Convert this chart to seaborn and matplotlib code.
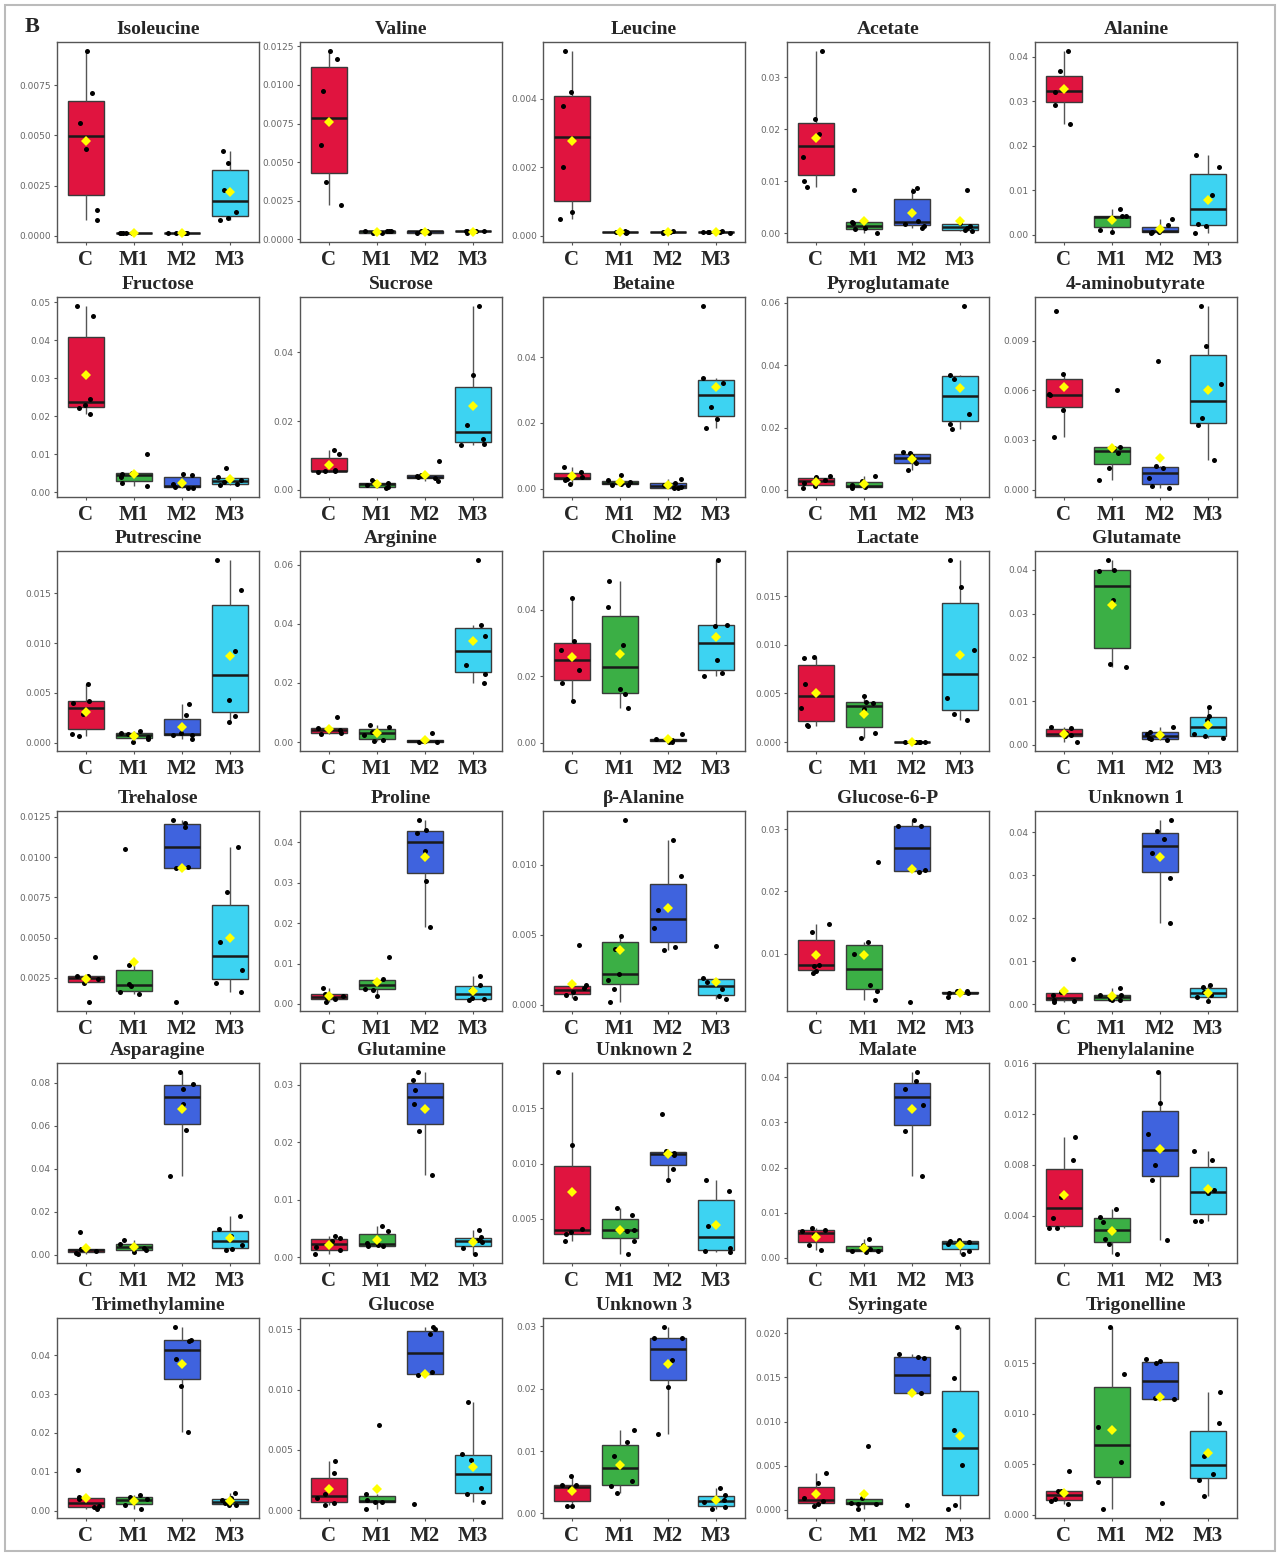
import numpy as np
import pandas as pd
import matplotlib
matplotlib.use("Agg")
import matplotlib.pyplot as plt
import seaborn as sns
from matplotlib.patches import Rectangle

# ---------------- data ----------------
groups = ["C", "M1", "M2", "M3"]
group_colors = ["#E0143F", "#3BAF45", "#3F63DE", "#3DD3F2"]

isoleucine = [[0.0092, 0.0071, 0.0056, 0.0043, 0.0013, 0.0008],
              [0.00015, 0.00015, 0.00016, 0.00014, 0.00015, 0.00015],
              [0.00015, 0.00016, 0.00015, 0.00014, 0.00015, 0.00015],
              [0.0042, 0.0036, 0.0023, 0.0012, 0.0009, 0.0008]]
valine = [[0.0122, 0.0117, 0.0096, 0.0061, 0.0037, 0.0022],
          [0.0005, 0.0004, 0.0005, 0.0005, 0.0004, 0.0005],
          [0.0004, 0.0005, 0.0005, 0.0004, 0.0005, 0.0005],
          [0.0005, 0.0004, 0.0005, 0.0005, 0.0005, 0.0005]]
leucine = [[0.0054, 0.0042, 0.0038, 0.0020, 0.0007, 0.0005],
           [0.0001, 0.00012, 0.00008, 0.0001, 0.00015, 0.0001],
           [0.0001, 0.00015, 0.00008, 0.0001, 0.00012, 0.0001],
           [0.0001, 0.00012, 0.00008, 0.0001, 0.00013, 0.0001]]
acetate = [[0.035, 0.022, 0.019, 0.0147, 0.010, 0.009],
           [0.0083, 0.0022, 0.0020, 0.0010, 0.0008, 0.0001],
           [0.0088, 0.0081, 0.0024, 0.0018, 0.0015, 0.0011],
           [0.0083, 0.0020, 0.0015, 0.0010, 0.0006, 0.0004]]
alanine = [[0.0413, 0.0368, 0.0328, 0.0320, 0.0291, 0.0250],
           [0.0057, 0.0043, 0.0042, 0.0038, 0.0010, 0.0007],
           [0.0035, 0.0021, 0.0010, 0.0007, 0.0005, 0.0004],
           [0.0180, 0.0153, 0.0090, 0.0025, 0.0020, 0.0004]]
fructose = [[0.049, 0.0463, 0.0245, 0.023, 0.0222, 0.0207],
            [0.010, 0.0051, 0.0048, 0.0040, 0.0025, 0.0017],
            [0.0047, 0.0045, 0.0020, 0.0014, 0.0012, 0.0011],
            [0.0063, 0.0040, 0.0032, 0.0027, 0.0020, 0.0018]]
sucrose = [[0.0115, 0.0105, 0.0058, 0.0055, 0.0055, 0.0052],
           [0.0030, 0.0022, 0.0020, 0.0015, 0.0008, 0.0006],
           [0.0083, 0.0045, 0.0040, 0.0037, 0.0034, 0.0027],
           [0.0535, 0.0335, 0.0188, 0.0148, 0.0135, 0.0130]]
betaine = [[0.0065, 0.0050, 0.0035, 0.0030, 0.0027, 0.0015],
           [0.0040, 0.0025, 0.0020, 0.0015, 0.0012, 0.0010],
           [0.0028, 0.0018, 0.0010, 0.0005, 0.0002, 0.0002],
           [0.0555, 0.0335, 0.0320, 0.0248, 0.0212, 0.0183]]
pyroglutamate = [[0.0045, 0.0040, 0.0032, 0.0022, 0.0012, 0.0006],
                 [0.0045, 0.0028, 0.0015, 0.0012, 0.0008, 0.0006],
                 [0.0120, 0.0118, 0.0110, 0.0095, 0.0085, 0.0062],
                 [0.0590, 0.0368, 0.0355, 0.0245, 0.0212, 0.0195]]
aminobutyrate = [[0.0108, 0.0070, 0.0058, 0.0057, 0.0048, 0.0032],
                 [0.0060, 0.0026, 0.0025, 0.0022, 0.0013, 0.0006],
                 [0.0078, 0.0014, 0.0013, 0.0007, 0.0002, 0.0001],
                 [0.0111, 0.0087, 0.0064, 0.0043, 0.0039, 0.0018]]
putrescine = [[0.0059, 0.0042, 0.0040, 0.0029, 0.0009, 0.0007],
              [0.0012, 0.0010, 0.0009, 0.0006, 0.0004, 0.0001],
              [0.0039, 0.0028, 0.0010, 0.0008, 0.0008, 0.0004],
              [0.0183, 0.0153, 0.0092, 0.0043, 0.0027, 0.0021]]
arginine = [[0.0085, 0.0048, 0.0042, 0.0040, 0.0030, 0.0028],
            [0.0058, 0.0050, 0.0035, 0.0025, 0.0007, 0.0005],
            [0.0030, 0.0008, 0.0005, 0.0003, 0.0002, 0.0001],
            [0.0615, 0.0395, 0.0358, 0.0260, 0.0230, 0.0201]]
choline = [[0.0435, 0.0305, 0.0280, 0.0220, 0.0180, 0.0125],
           [0.0488, 0.0410, 0.0295, 0.0160, 0.0145, 0.0103],
           [0.0025, 0.0012, 0.0008, 0.0006, 0.0003, 0.0002],
           [0.0550, 0.0355, 0.0350, 0.0250, 0.0210, 0.0200]]
lactate = [[0.0087, 0.0086, 0.0060, 0.0035, 0.0017, 0.0016],
           [0.0047, 0.0041, 0.0040, 0.0034, 0.0009, 0.0004],
           [0.00001, 0.00002, 0.00001, 0.00002, 0.00001, 0.00002],
           [0.0187, 0.0159, 0.0095, 0.0045, 0.0029, 0.0023]]
glutamate = [[0.0040, 0.0038, 0.0028, 0.0022, 0.0020, 0.0007],
             [0.0422, 0.0400, 0.0398, 0.0330, 0.0185, 0.0177],
             [0.0040, 0.0030, 0.0025, 0.0017, 0.0013, 0.0011],
             [0.0087, 0.0065, 0.0058, 0.0025, 0.0020, 0.0016]]
trehalose = [[0.0038, 0.0026, 0.0026, 0.0024, 0.0022, 0.0010],
             [0.0105, 0.0033, 0.0021, 0.0020, 0.0016, 0.0015],
             [0.0123, 0.0121, 0.0119, 0.0094, 0.0093, 0.0010],
             [0.0106, 0.0078, 0.0047, 0.0030, 0.0022, 0.0016]]
proline = [[0.0040, 0.0025, 0.0020, 0.0015, 0.0012, 0.0005],
           [0.0117, 0.0062, 0.0055, 0.0038, 0.0035, 0.0020],
           [0.0455, 0.0430, 0.0422, 0.0378, 0.0305, 0.0190],
           [0.0068, 0.0047, 0.0035, 0.0015, 0.0012, 0.0010]]
beta_alanine = [[0.0043, 0.0014, 0.0012, 0.0009, 0.0007, 0.0005],
                [0.0132, 0.0049, 0.0040, 0.0022, 0.0018, 0.0011, 0.0002],
                [0.0118, 0.0092, 0.0068, 0.0055, 0.0041, 0.0039],
                [0.0042, 0.0019, 0.0016, 0.0011, 0.0006, 0.0004]]
glucose6p = [[0.0148, 0.0135, 0.0082, 0.0080, 0.0072, 0.0068],
             [0.0248, 0.0118, 0.0100, 0.0050, 0.0040, 0.0025],
             [0.0315, 0.0305, 0.0305, 0.0235, 0.0232, 0.0022],
             [0.0040, 0.0039, 0.0037, 0.0036, 0.0036, 0.0030]]
unknown1 = [[0.0105, 0.0028, 0.0020, 0.0010, 0.0008, 0.0005],
            [0.0038, 0.0022, 0.0020, 0.0012, 0.0010, 0.0010],
            [0.0428, 0.0402, 0.0385, 0.0352, 0.0293, 0.0188],
            [0.0045, 0.0040, 0.0028, 0.0022, 0.0016, 0.0006]]
asparagine = [[0.0105, 0.0028, 0.0025, 0.0015, 0.0008, 0.0003],
              [0.0068, 0.0050, 0.0042, 0.0030, 0.0020, 0.0010],
              [0.0850, 0.0795, 0.0772, 0.0700, 0.0580, 0.0368],
              [0.0178, 0.0118, 0.0085, 0.0045, 0.0025, 0.0020]]
glutamine = [[0.0037, 0.0033, 0.0028, 0.0018, 0.0012, 0.0006],
             [0.0055, 0.0045, 0.0025, 0.0021, 0.0020, 0.0019],
             [0.0322, 0.0308, 0.0291, 0.0266, 0.0220, 0.0144],
             [0.0047, 0.0036, 0.0030, 0.0027, 0.0017, 0.0006]]
unknown2 = [[0.0183, 0.0117, 0.0041, 0.0038, 0.0036, 0.0030],
            [0.0060, 0.0053, 0.0040, 0.0039, 0.0030, 0.0018],
            [0.0145, 0.0111, 0.0110, 0.0108, 0.0095, 0.0085],
            [0.0085, 0.0075, 0.0043, 0.0023, 0.0021, 0.0020]]
malate = [[0.0065, 0.0062, 0.0058, 0.0050, 0.0028, 0.0016],
          [0.0042, 0.0028, 0.0018, 0.0015, 0.0014, 0.0013],
          [0.0412, 0.0392, 0.0375, 0.0338, 0.0280, 0.0182],
          [0.0040, 0.0037, 0.0035, 0.0030, 0.0015, 0.0008]]
phenylalanine = [[0.0102, 0.0084, 0.0055, 0.0038, 0.0030, 0.0030],
                 [0.0045, 0.0039, 0.0035, 0.0022, 0.0018, 0.0010],
                 [0.0153, 0.0129, 0.0104, 0.0080, 0.0068, 0.0021],
                 [0.0091, 0.0084, 0.0060, 0.0058, 0.0036, 0.0036]]
trimethylamine = [[0.0106, 0.0035, 0.0030, 0.0012, 0.0010, 0.0005],
                  [0.0040, 0.0036, 0.0030, 0.0025, 0.0015, 0.0006],
                  [0.0472, 0.0440, 0.0435, 0.0390, 0.0320, 0.0202],
                  [0.0046, 0.0033, 0.0027, 0.0020, 0.0016, 0.0015]]
glucose = [[0.0041, 0.0031, 0.0013, 0.0010, 0.0006, 0.0004],
           [0.0071, 0.0013, 0.0008, 0.0007, 0.0007, 0.0001],
           [0.0152, 0.0150, 0.0146, 0.0115, 0.0112, 0.0005],
           [0.0090, 0.0047, 0.0042, 0.0018, 0.0013, 0.0007]]
unknown3 = [[0.0060, 0.0045, 0.0045, 0.0040, 0.0012, 0.0011],
            [0.0133, 0.0115, 0.0092, 0.0052, 0.0044, 0.0033],
            [0.0299, 0.0281, 0.0281, 0.0246, 0.0203, 0.0128],
            [0.0041, 0.0030, 0.0022, 0.0018, 0.0010, 0.0007]]
syringate = [[0.0042, 0.0030, 0.0013, 0.0010, 0.0007, 0.0004],
             [0.0072, 0.0013, 0.0008, 0.0007, 0.0006, 0.0001],
             [0.0177, 0.0173, 0.0172, 0.0134, 0.0132, 0.0005],
             [0.0207, 0.0149, 0.0090, 0.0051, 0.0005, 0.0001]]
trigonelline = [[0.0044, 0.0024, 0.0024, 0.0016, 0.0014, 0.0011],
                [0.0186, 0.0140, 0.0087, 0.0052, 0.0033, 0.0006],
                [0.0154, 0.0152, 0.0150, 0.0116, 0.0115, 0.0012],
                [0.0122, 0.0091, 0.0058, 0.0041, 0.0035, 0.0019]]

titles = ["Isoleucine", "Valine", "Leucine", "Acetate", "Alanine",
          "Fructose", "Sucrose", "Betaine", "Pyroglutamate", "4-aminobutyrate",
          "Putrescine", "Arginine", "Choline", "Lactate", "Glutamate",
          "Trehalose", "Proline", "β-Alanine", "Glucose-6-P", "Unknown 1",
          "Asparagine", "Glutamine", "Unknown 2", "Malate", "Phenylalanine",
          "Trimethylamine", "Glucose", "Unknown 3", "Syringate", "Trigonelline"]

series = [isoleucine, valine, leucine, acetate, alanine,
          fructose, sucrose, betaine, pyroglutamate, aminobutyrate,
          putrescine, arginine, choline, lactate, glutamate,
          trehalose, proline, beta_alanine, glucose6p, unknown1,
          asparagine, glutamine, unknown2, malate, phenylalanine,
          trimethylamine, glucose, unknown3, syringate, trigonelline]

y_ticks = [[0, 0.0025, 0.005, 0.0075], [0, 0.0025, 0.005, 0.0075, 0.01, 0.0125],
           [0, 0.002, 0.004], [0, 0.01, 0.02, 0.03], [0, 0.01, 0.02, 0.03, 0.04],
           [0, 0.01, 0.02, 0.03, 0.04, 0.05], [0, 0.02, 0.04], [0, 0.02, 0.04],
           [0, 0.02, 0.04, 0.06], [0, 0.003, 0.006, 0.009],
           [0, 0.005, 0.01, 0.015], [0, 0.02, 0.04, 0.06], [0, 0.02, 0.04],
           [0, 0.005, 0.01, 0.015], [0, 0.01, 0.02, 0.03, 0.04],
           [0.0025, 0.005, 0.0075, 0.01, 0.0125], [0, 0.01, 0.02, 0.03, 0.04],
           [0, 0.005, 0.01], [0.01, 0.02, 0.03], [0, 0.01, 0.02, 0.03, 0.04],
           [0, 0.02, 0.04, 0.06, 0.08], [0, 0.01, 0.02, 0.03],
           [0.005, 0.01, 0.015], [0, 0.01, 0.02, 0.03, 0.04],
           [0.004, 0.008, 0.012, 0.016],
           [0, 0.01, 0.02, 0.03, 0.04], [0, 0.005, 0.01, 0.015],
           [0, 0.01, 0.02, 0.03], [0, 0.005, 0.01, 0.015, 0.02],
           [0, 0.005, 0.01, 0.015]]

# ---------------- layout ----------------
W, H = 1280, 1556
sns.set_style("white")
plt.rcParams["font.family"] = ["DejaVu Sans"]
np.random.seed(3)

fig = plt.figure(figsize=(W / 100, H / 100), dpi=100)
col_left = [57, 300, 543, 787, 1035]
row_top = [42, 297, 551, 811, 1063, 1318]
ax_w, ax_h = 202, 200

serif = ["Liberation Serif", "DejaVu Serif"]


def decimals(v):
    s = f"{v:.6f}".rstrip("0")
    return len(s.split(".")[1])


for i, (title, vals, ticks) in enumerate(zip(titles, series, y_ticks)):
    r, c = divmod(i, 5)
    ax = fig.add_axes([col_left[c] / W, 1 - (row_top[r] + ax_h) / H, ax_w / W, ax_h / H])
    df = pd.DataFrame({
        "group": [g for g, v in zip(groups, vals) for _ in v],
        "value": [x for v in vals for x in v],
    })
    sns.boxplot(data=df, x="group", y="value", hue="group", order=groups,
                hue_order=groups, palette=group_colors, legend=False,
                saturation=1, width=0.75, showfliers=False, linewidth=1.0,
                linecolor="#3a3a3a",
                whiskerprops={"color": "#555555", "linewidth": 1.0},
                capprops={"linewidth": 0},
                medianprops={"color": "#1a1a1a", "linewidth": 1.8},
                ax=ax)
    sns.stripplot(data=df, x="group", y="value", order=groups, color="black",
                  size=3.6, jitter=0.3, ax=ax, zorder=4)
    sns.pointplot(data=df, x="group", y="value", order=groups, estimator="mean",
                  errorbar=None, color="#FFFF00", marker="D", linestyle="none",
                  markersize=4.8, markeredgewidth=0, ax=ax, zorder=6)
    ax.set_xlim(-0.6, 3.6)
    ax.margins(y=0.05)
    ax.autoscale(axis="y")
    nd = max(decimals(t) for t in ticks)
    ax.set_yticks(ticks)
    ax.set_yticklabels([f"{t:.{nd}f}" for t in ticks])
    ax.set_xlabel("")
    ax.set_ylabel("")
    ax.tick_params(axis="y", labelsize=6.5, labelcolor="#666666", color="#555555",
                   length=2.5, width=0.8, pad=2, left=True)
    ax.tick_params(axis="x", labelsize=15, color="#555555", length=2.5, width=0.8,
                   pad=3, bottom=True)
    for lab in ax.get_xticklabels():
        lab.set_fontfamily(serif)
        lab.set_fontweight("bold")
    for sp in ax.spines.values():
        sp.set_visible(True)
        sp.set_color("#555555")
        sp.set_linewidth(1.0)
    ax.set_title(title, fontfamily=serif, fontweight="bold", fontsize=14, pad=6)

fig.text(25 / W, 1 - 27 / H, "B", fontfamily=serif, fontweight="bold",
         fontsize=16, ha="left", va="center")
fig.patches.append(Rectangle((5 / W, 5 / H), 1 - 10 / W, 1 - 10 / H,
                             transform=fig.transFigure, fill=False,
                             edgecolor="#bbbbbb", linewidth=1.5))

fig.savefig("out.png", dpi=100, facecolor="white")
